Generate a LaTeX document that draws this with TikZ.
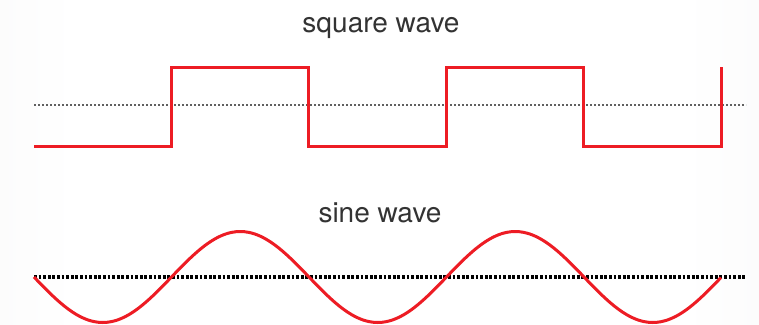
\documentclass[tikz,border=0pt]{standalone}
\usepackage{fontspec}
\setmainfont{TeX Gyre Heros}
\definecolor{wavered}{HTML}{ED1C24}
\definecolor{bgedge}{HTML}{ECEDEE}
\definecolor{labelgray}{HTML}{333333}
\pgfdeclarehorizontalshading{bgfade}{100bp}{color(0bp)=(bgedge); color(30bp)=(white);
  color(70bp)=(white); color(100bp)=(bgedge)}
\tikzset{
  wave/.style={line width=3pt, wavered, line join=miter},
  swave/.style={line width=3pt, wavered, smooth, samples=161},
  midline/.style={gray!75!black, line width=1.4pt, dash pattern=on 1.6pt off 2.4pt},
  zeroline/.style={black, line width=3.2pt, dash pattern=on 2.8pt off 1.8pt},
  title/.style={text=labelgray, font=\fontsize{28}{30}\selectfont, inner sep=0pt, anchor=base},
}

\begin{document}
\begin{tikzpicture}[x=1pt,y=-1pt]
  \shade[shading=bgfade] (0,0) rectangle (759,324);
  \useasboundingbox (0,0) rectangle (759,324);
  % square wave
  \node[title] (sqtitle) at (381,32) {square wave};
  \draw[midline] (34,105) -- (746,105);
  \draw[wave] (34,146) -- (171,146) -- (171,67) -- (308,67) -- (308,146) -- (446,146)
    -- (446,67) -- (583,67) -- (583,146) -- (721,146) -- (721,67);
  % sine wave
  \node[title] (sntitle) at (380,222) {sine wave};
  \draw[zeroline] (34,277) -- (746,277);
  \draw[swave, domain=34:721] plot (\x, {277+45.5*sin((\x-34)*1.30909)});
\end{tikzpicture}
\end{document}
